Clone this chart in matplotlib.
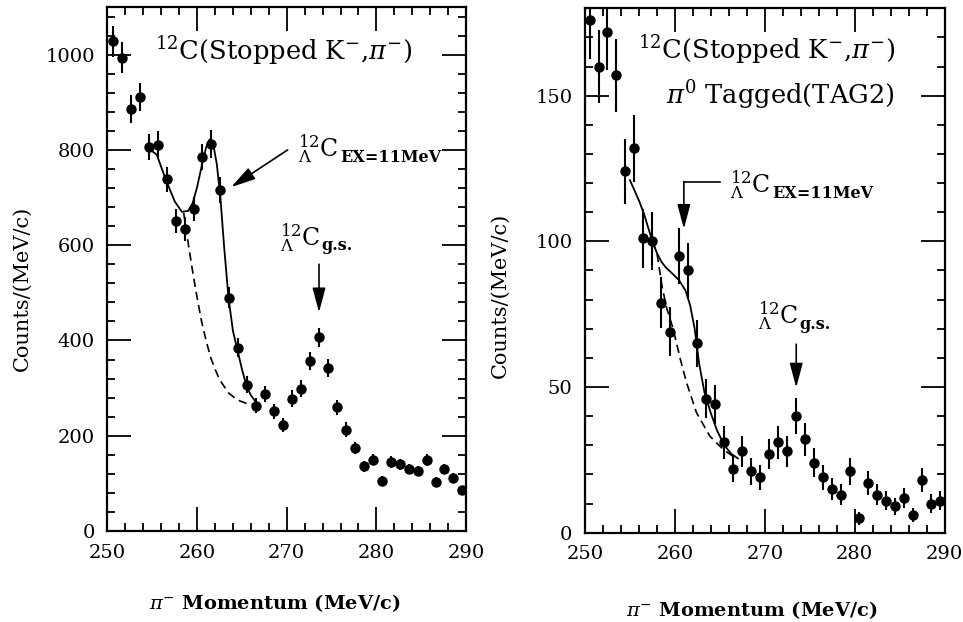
import matplotlib
matplotlib.use("Agg")
import matplotlib.pyplot as plt
from matplotlib.ticker import MultipleLocator

plt.rcParams['font.family'] = ['DejaVu Serif']
plt.rcParams['mathtext.fontset'] = 'dejavuserif'

# --- data: 12C(stopped K-, pi-) spectrum, inclusive ---
mom_all = [250.6, 251.6, 252.6, 253.6, 254.6, 255.6, 256.6, 257.6, 258.6, 259.6,
           260.6, 261.6, 262.6, 263.6, 264.6, 265.6, 266.6, 267.6, 268.6, 269.6,
           270.6, 271.6, 272.6, 273.6, 274.6, 275.6, 276.6, 277.6, 278.6, 279.6,
           280.6, 281.6, 282.6, 283.6, 284.6, 285.6, 286.6, 287.6, 288.6, 289.6]
cnt_all = [1028, 994, 886, 911, 806, 811, 738, 651, 634, 676,
           785, 813, 716, 490, 385, 307, 263, 288, 251, 222,
           278, 299, 356, 407, 343, 260, 213, 174, 136, 150,
           106, 145, 140, 130, 126, 149, 103, 130, 111, 86]
err_all = [32, 32, 30, 30, 28, 28, 27, 26, 25, 26,
           28, 29, 27, 22, 20, 18, 16, 17, 16, 15,
           17, 17, 19, 20, 19, 16, 15, 13, 12, 12,
           10, 12, 12, 11, 11, 12, 10, 11, 11, 9]

# fit curves
fit_all_x = [254.8, 255.5, 256.5, 257.5, 258.3, 259.0, 259.5, 260.0, 260.5, 261.0,
             261.4, 261.8, 262.2, 262.6, 263.0, 263.5, 264.0, 264.5, 265.0, 265.5,
             266.0, 266.7]
fit_all_y = [800, 790, 738, 692, 670, 672, 688, 722, 765, 805,
             822, 812, 770, 700, 600, 490, 420, 380, 340, 305,
             285, 267]
bg_all_x = [258.5, 259.0, 259.5, 260.0, 260.5, 261.0, 261.5, 262.0, 262.5, 263.5,
            264.5, 265.5, 266.7]
bg_all_y = [668, 605, 545, 490, 440, 400, 365, 340, 318, 290,
            275, 268, 265]

# --- data: pi0 tagged (TAG2) ---
mom_tag = [250.5, 251.5, 252.5, 253.5, 254.5, 255.5, 256.5, 257.5, 258.5, 259.5,
           260.5, 261.5, 262.5, 263.5, 264.5, 265.5, 266.5, 267.5, 268.5, 269.5,
           270.5, 271.5, 272.5, 273.5, 274.5, 275.5, 276.5, 277.5, 278.5, 279.5,
           280.5, 281.5, 282.5, 283.5, 284.5, 285.5, 286.5, 287.5, 288.5, 289.5]
cnt_tag = [176, 160, 172, 157, 124, 132, 101, 100, 79, 69,
           95, 90, 65, 46, 44, 31, 22, 28, 21, 19,
           27, 31, 28, 40, 32, 24, 19, 15, 13, 21,
           5, 17, 13, 11, 9, 12, 6, 18, 10, 11]
err_tag = [13.3, 12.6, 13.1, 12.5, 11.1, 11.5, 10.0, 10.0, 8.9, 8.3,
           9.7, 9.5, 8.1, 6.8, 6.6, 5.6, 4.7, 5.3, 4.6, 4.4,
           5.2, 5.6, 5.3, 6.3, 5.7, 4.9, 4.4, 3.9, 3.6, 4.6,
           2.2, 4.1, 3.6, 3.3, 3.0, 3.5, 2.4, 4.2, 3.2, 3.3]

fit_tag_x = [255.0, 256.0, 256.5, 257.5, 258.0, 258.5, 259.0, 259.7, 260.5, 261.2,
             261.7, 262.2, 262.7, 263.3, 264.0, 264.7, 265.5, 266.3, 267.0]
fit_tag_y = [121, 114, 110, 100, 96, 93, 91, 89, 86.5, 83,
             78, 70, 58, 48, 41, 35, 30, 27, 25.5]
bg_tag_x = [257.5, 258.0, 258.6, 259.1, 259.8, 260.6, 261.3, 262.4, 263.9, 265.4, 266.9]
bg_tag_y = [100, 96, 84, 77, 70, 59.6, 51.5, 41.2, 33.1, 28.5, 25.3]

fig = plt.figure(figsize=(9.63, 6.22), dpi=100)
ax1 = fig.add_axes([0.1116, 0.1463, 0.3723, 0.8424])
ax2 = fig.add_axes([0.6075, 0.1436, 0.3733, 0.8431])

TXT = 18.5
LBL = 17
ARW = dict(arrowstyle='-|>,head_length=15,head_width=4', color='black',
           lw=1.2, mutation_scale=1, shrinkA=0, shrinkB=0)


def style_axes(ax, ymax, ymajor, yminor):
    ax.set_xlim(250, 290)
    ax.set_ylim(0, ymax)
    ax.xaxis.set_major_locator(MultipleLocator(10))
    ax.xaxis.set_minor_locator(MultipleLocator(2))
    ax.yaxis.set_major_locator(MultipleLocator(ymajor))
    ax.yaxis.set_minor_locator(MultipleLocator(yminor))
    ax.tick_params(which='both', direction='in', top=True, right=True,
                   width=1.3, labelsize=14)
    ax.tick_params(which='major', length=17, pad=9)
    ax.tick_params(which='minor', length=6)
    for sp in ax.spines.values():
        sp.set_linewidth(1.6)
    ax.set_xlabel(r'$\pi^{-}$ Momentum (MeV/c)', fontsize=14, fontweight='bold',
                  va='center')
    ax.set_ylabel('Counts/(MeV/c)', fontsize=15, va='center')


def draw(ax, x, y, e, fx, fy, bx, by):
    ax.errorbar(x, y, yerr=e, fmt='o', color='black', ms=6.5,
                elinewidth=1.5, capsize=0)
    ax.plot(fx, fy, color='black', lw=1.3)
    ax.plot(bx, by, color='black', lw=1.2, ls=(0, (5, 3)))


def hyp_label(ax, x, y, sub):
    t = ax.text(x, y, r'${}^{12}_{\Lambda}$C', fontsize=LBL, va='center', ha='left')
    ax.annotate(sub, xy=(1, 0), xycoords=t, xytext=(1, 2.5),
                textcoords='offset points', fontsize=11.5, fontweight='bold',
                va='baseline', ha='left')


style_axes(ax1, 1100, 200, 40)
draw(ax1, mom_all, cnt_all, err_all, fit_all_x, fit_all_y, bg_all_x, bg_all_y)
ax1.yaxis.set_label_coords(-0.238, 0.464)
ax1.xaxis.set_label_coords(0.467, -0.137)

ax1.text(255.3, 1008, r'$^{12}$C(Stopped K$^{-}$,$\pi^{-}$)', fontsize=TXT,
         va='center', ha='left')
hyp_label(ax1, 271.3, 802, 'EX=11MeV')
ax1.annotate('', xy=(263.8, 722), xytext=(270.1, 800), arrowprops=ARW)
hyp_label(ax1, 269.2, 617, 'g.s.')
ax1.annotate('', xy=(273.6, 459), xytext=(273.6, 560), arrowprops=ARW)

style_axes(ax2, 180, 50, 10)
draw(ax2, mom_tag, cnt_tag, err_tag, fit_tag_x, fit_tag_y, bg_tag_x, bg_tag_y)
ax2.yaxis.set_label_coords(-0.236, 0.453)
ax2.xaxis.set_label_coords(0.465, -0.147)

ax2.text(284.5, 165.8, r'$^{12}$C(Stopped K$^{-}$,$\pi^{-}$)', fontsize=TXT,
         va='center', ha='right')
ax2.text(284.5, 150.2, r'$\pi^{0}$ Tagged(TAG2)', fontsize=TXT,
         va='center', ha='right')
hyp_label(ax2, 266.1, 119.5, 'EX=11MeV')
ax2.plot([265.0, 261.0], [120.5, 120.5], color='black', lw=1.2)
ax2.annotate('', xy=(261.0, 104.3), xytext=(261.0, 120.5), arrowprops=ARW)
hyp_label(ax2, 269.2, 74.4, 'g.s.')
ax2.annotate('', xy=(273.5, 49.8), xytext=(273.5, 64.7), arrowprops=ARW)

fig.savefig('out.png', dpi=100)
